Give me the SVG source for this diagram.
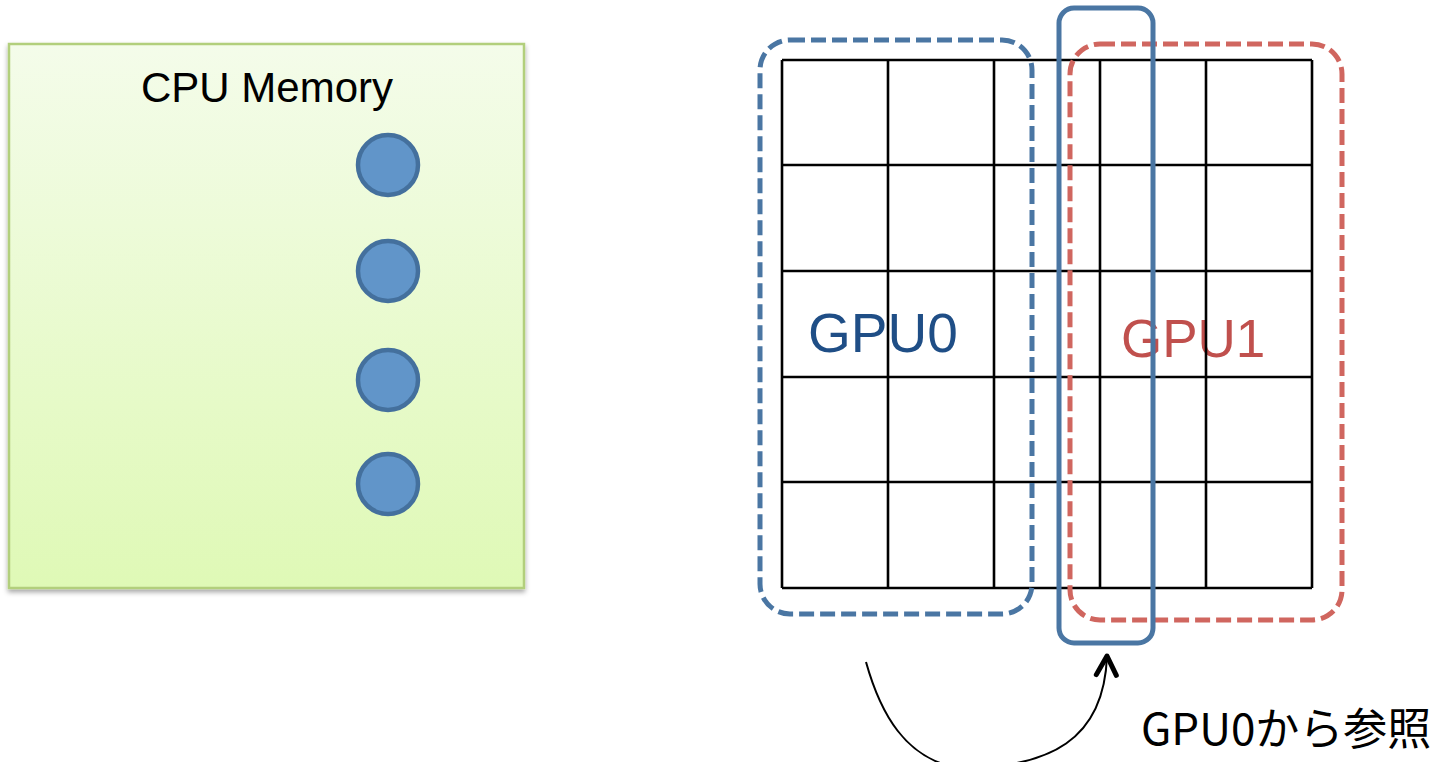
<svg xmlns="http://www.w3.org/2000/svg" width="1435" height="762" viewBox="0 0 1435 762">
  <defs>
    <linearGradient id="memFill" x1="0" y1="0" x2="0" y2="1">
      <stop offset="0" stop-color="#f4fcea"/>
      <stop offset="1" stop-color="#dff9b6"/>
    </linearGradient>
    <filter id="boxShadow" x="-5%" y="-5%" width="110%" height="112%">
      <feDropShadow dx="0" dy="3" stdDeviation="2.5" flood-color="#000" flood-opacity="0.35"/>
    </filter>
    <marker id="openHead" markerUnits="userSpaceOnUse" viewBox="-24 -14 28 28" markerWidth="28" markerHeight="28" refX="0" refY="0" orient="auto">
      <path d="M -19,-10 L 0,0 L -19,10" fill="none" stroke="#000" stroke-width="5" stroke-linecap="round" stroke-linejoin="round"/>
    </marker>
    <style>
      .label { font-family: "Liberation Sans", Arial, sans-serif; }
      .jp { font-family: "Noto Sans CJK JP", "Noto Sans", sans-serif; }
      .grid line { stroke: #000; stroke-width: 2.6; }
      .dashBlue { fill: none; stroke: #4a76a3; stroke-width: 5; stroke-dasharray: 15 6; }
      .dashRed { fill: none; stroke: #d0665f; stroke-width: 5; stroke-dasharray: 15 6; }
      .solidBlue { fill: none; stroke: #4a76a3; stroke-width: 5; }
      .item { fill: #6195c9; stroke: #44709d; stroke-width: 4.5; }
    </style>
  </defs>

  <rect width="1435" height="762" fill="#fff"/>

  <!-- host memory block with its four data items -->
  <g id="cpu-memory">
    <rect x="9" y="44" width="515" height="544" fill="url(#memFill)" stroke="#b2cf7c" stroke-width="2.5" filter="url(#boxShadow)"/>
    <text class="label" x="267" y="102" font-size="42" text-anchor="middle" fill="#000">CPU Memory</text>
    <circle class="item" cx="388" cy="165" r="30"/>
    <circle class="item" cx="388" cy="271" r="30"/>
    <circle class="item" cx="388" cy="380" r="30"/>
    <circle class="item" cx="388" cy="484" r="30"/>
  </g>

  <!-- region labels sit beneath the grid lines -->
  <g id="gpu0-label">
    <text class="label" x="808" y="352" font-size="55" fill="#1f4e86">GPU0</text>
  </g>
  <g id="gpu1-label">
    <text class="label" x="1121" y="357" font-size="53" fill="#c0504d">GPU1</text>
  </g>

  <!-- 5 x 5 data grid -->
  <g id="grid" class="grid">
    <line x1="782" y1="60" x2="1312" y2="60"/>
    <line x1="782" y1="165" x2="1312" y2="165"/>
    <line x1="782" y1="271" x2="1312" y2="271"/>
    <line x1="782" y1="377" x2="1312" y2="377"/>
    <line x1="782" y1="482" x2="1312" y2="482"/>
    <line x1="782" y1="588" x2="1312" y2="588"/>
    <line x1="782" y1="60" x2="782" y2="588"/>
    <line x1="888" y1="60" x2="888" y2="588"/>
    <line x1="994" y1="60" x2="994" y2="588"/>
    <line x1="1100" y1="60" x2="1100" y2="588"/>
    <line x1="1206" y1="60" x2="1206" y2="588"/>
    <line x1="1312" y1="60" x2="1312" y2="588"/>
  </g>

  <!-- partition outlines -->
  <g id="gpu0-region">
    <rect class="dashBlue" x="760" y="40" width="272" height="574" rx="30"/>
  </g>
  <g id="gpu1-region">
    <rect class="dashRed" x="1070" y="44" width="272" height="576" rx="30"/>
  </g>
  <g id="halo-column">
    <rect class="solidBlue" x="1059" y="8" width="94" height="635" rx="15"/>
  </g>

  <!-- reference arrow -->
  <g id="connectors">
    <path d="M 866,662 C 880,712 905,760 960,768 C 1050,768 1104,740 1107,656" fill="none" stroke="#000" stroke-width="2" marker-end="url(#openHead)"/>
  </g>

  <g id="ref-label">
    <text class="jp" x="1141" y="745" font-size="44" fill="#000">GPU0から参照</text>
  </g>
</svg>
